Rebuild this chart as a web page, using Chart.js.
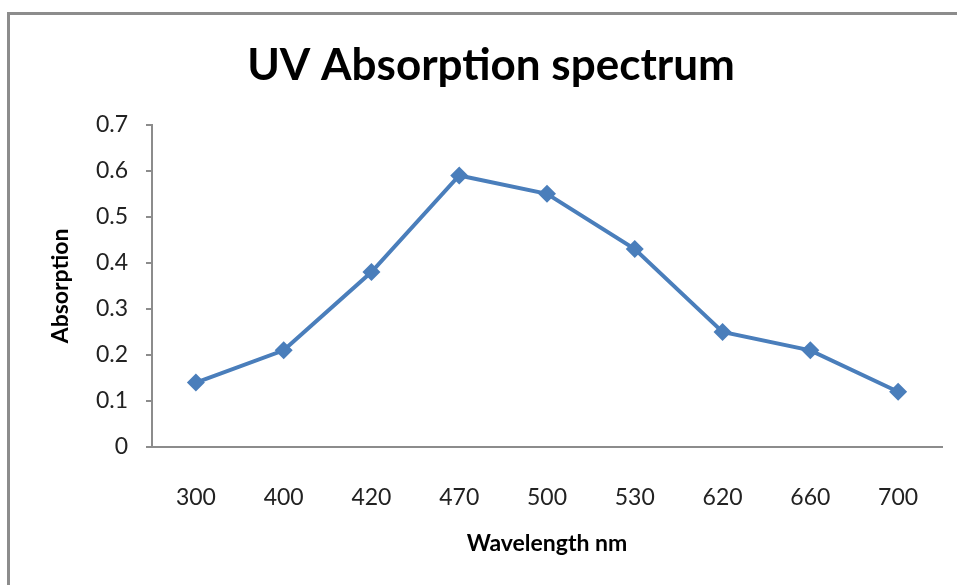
<!DOCTYPE html>
<html>
<head>
<meta charset="utf-8">
<script src="https://cdn.jsdelivr.net/npm/chart.js@4/dist/chart.umd.min.js"></script>
<style>
  html, body { margin: 0; padding: 0; background: #ffffff; }
  #wrap { position: relative; width: 957px; height: 585px; overflow: hidden; background: #fff; }
  #frame { position: absolute; left: 7px; top: 12px; width: 1000px; height: 700px;
           border-left: 3px solid #8c8c8c; border-top: 3px solid #8c8c8c; box-sizing: border-box; }
  canvas { position: absolute; left: 0; top: 0; }
</style>
</head>
<body>
<div id="wrap">
  <div id="frame"></div>
  <canvas id="c" width="957" height="585"></canvas>
</div>
<script>
const wavelengths = ['300', '400', '420', '470', '500', '530', '620', '660', '700'];
const absorption = [0.14, 0.21, 0.38, 0.59, 0.55, 0.43, 0.25, 0.21, 0.12];
const chartTitle = 'UV Absorption spectrum';
const xTitle = 'Wavelength nm';
const yTitle = 'Absorption';

const FONT = 'Lato, "Open Sans", sans-serif';
const LINE = '#4a7ebb';
const AXIS = '#8c8c8c';

new Chart(document.getElementById('c'), {
  type: 'line',
  data: {
    labels: wavelengths,
    datasets: [{
      data: absorption,
      borderColor: LINE,
      backgroundColor: LINE,
      borderWidth: 4,
      pointStyle: 'rectRot',
      pointRadius: 9,
      pointBorderWidth: 0,
      pointBackgroundColor: LINE,
      tension: 0,
      fill: false
    }]
  },
  options: {
    responsive: false,
    animation: false,
    devicePixelRatio: 1,
    layout: { padding: { left: 40, right: 15, top: 0, bottom: 20 } },
    plugins: {
      legend: { display: false },
      tooltip: { enabled: false },
      title: {
        display: true,
        text: chartTitle,
        color: '#000',
        font: { family: FONT, size: 44, weight: 'bold' },
        padding: { top: 39, bottom: 33 }
      }
    },
    scales: {
      x: {
        type: 'category',
        offset: true,
        grid: { display: false },
        border: { display: true, color: AXIS, width: 2 },
        ticks: { color: '#222', font: { family: FONT, size: 23 }, padding: 29 },
        title: { display: true, text: xTitle, color: '#000',
                 font: { family: FONT, size: 23, weight: 'bold' }, padding: { top: 4, bottom: 8 } },
        afterFit: (s) => { s.height = 118; }
      },
      y: {
        min: 0, max: 0.7,
        ticks: { stepSize: 0.1, color: '#222', font: { family: FONT, size: 23 }, padding: 18 },
        grid: { drawOnChartArea: false, drawTicks: true, tickLength: 6, color: AXIS, lineWidth: 2 },
        border: { display: true, color: AXIS, width: 2 },
        title: { display: true, text: yTitle, color: '#000',
                 font: { family: FONT, size: 23, weight: 'bold' }, padding: { top: 7, bottom: 0 } },
        afterFit: (s) => { s.width = 112; }
      }
    }
  }
});
</script>
</body>
</html>
